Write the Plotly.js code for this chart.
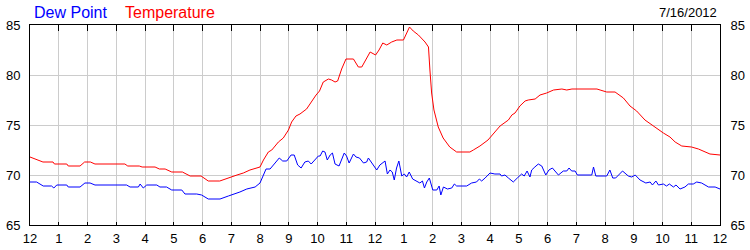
<!DOCTYPE html>
<html>
<head>
<meta charset="utf-8">
<script src="https://cdn.plot.ly/plotly-3.0.1.min.js"></script>
<style>html,body{margin:0;padding:0;background:#fff;}#chart{width:750px;height:250px;}</style>
</head>
<body>
<div id="chart"></div>
<script>
// Hours of the day (0 = midnight, 24 = next midnight)
const hourTicks = [0,1,2,3,4,5,6,7,8,9,10,11,12,13,14,15,16,17,18,19,20,21,22,23,24];
const hourLabels = ["12","1","2","3","4","5","6","7","8","9","10","11","12","1","2","3","4","5","6","7","8","9","10","11","12"];
const dateLabel = "7/16/2012";
const seriesNames = ["Dew Point", "Temperature"];

const tempHours = [0,0.45,0.8,0.85,1.28,1.33,1.74,1.9,2.1,2.26,3.3,3.4,3.8,3.9,4.35,4.5,4.7,4.93,5.3,5.57,5.95,6.05,6.2,6.6,6.96,7.2,7.42,7.65,8.0,8.12,8.29,8.41,8.64,8.81,8.99,9.1,9.25,9.39,9.62,9.78,9.95,10.07,10.2,10.38,10.49,10.61,10.7,10.84,10.99,11.25,11.42,11.54,11.69,11.83,12.02,12.14,12.27,12.41,12.58,12.76,12.99,13.08,13.2,13.33,13.51,13.74,13.86,13.91,13.97,14.05,14.2,14.37,14.6,14.84,15.3,15.42,15.65,15.93,16.35,16.64,16.76,16.87,17.04,17.22,17.33,17.57,17.74,17.97,18.21,18.5,18.67,18.85,19.72,19.83,20.06,20.35,20.64,20.87,21.1,21.39,21.68,22.03,22.26,22.44,22.67,23.01,23.25,23.42,23.65,24];
const tempValues = [71.8,71.3,71.3,71.1,71.1,70.9,70.9,71.3,71.3,71.1,71.1,70.9,70.9,70.8,70.8,70.6,70.6,70.3,70.3,69.9,69.9,69.7,69.4,69.4,69.8,70.0,70.2,70.5,70.8,71.5,72.3,72.5,73.3,73.7,74.5,75.3,75.9,76.1,76.6,77.3,78.0,78.4,79.3,79.6,79.5,79.3,79.4,80.6,81.6,81.6,80.8,80.8,81.6,82.3,82.0,82.5,83.2,83.0,83.3,83.5,83.5,84.0,84.8,84.4,84.0,83.3,82.8,80.5,78.2,76.5,74.8,73.7,72.8,72.3,72.3,72.5,72.9,73.5,74.9,75.5,76.0,76.2,76.9,77.4,77.5,77.6,78.0,78.2,78.5,78.6,78.5,78.6,78.6,78.5,78.3,78.3,77.7,76.9,76.4,75.5,74.9,74.2,73.8,73.3,72.9,72.8,72.6,72.4,72.1,72.0];

const dewHours = [0,0.23,0.46,0.75,0.83,0.93,1.28,1.33,1.74,1.91,2.09,2.26,3.36,3.48,3.77,3.83,3.94,4.06,4.41,4.52,4.75,4.93,5.28,5.39,5.8,5.97,6.2,6.61,6.9,7.13,7.3,7.54,7.83,8.0,8.12,8.21,8.35,8.52,8.67,8.79,8.93,9.08,9.19,9.31,9.43,9.56,9.68,9.78,9.91,10.03,10.09,10.18,10.26,10.34,10.44,10.52,10.61,10.75,10.93,11.01,11.1,11.25,11.34,11.46,11.6,11.71,11.77,11.88,12.06,12.17,12.35,12.43,12.52,12.6,12.67,12.75,12.83,12.93,13.02,13.1,13.19,13.31,13.45,13.56,13.65,13.72,13.8,13.89,14.01,14.15,14.23,14.29,14.38,14.52,14.67,14.76,14.84,15.19,15.36,15.53,15.63,15.71,15.83,16.0,16.17,16.35,16.4,16.52,16.64,16.81,16.95,17.1,17.19,17.29,17.39,17.45,17.56,17.68,17.8,17.94,18.05,18.17,18.26,18.38,18.55,18.67,18.75,18.84,18.96,19.04,19.54,19.6,19.68,19.94,20.06,20.17,20.27,20.37,20.61,20.81,20.93,21.05,21.22,21.42,21.57,21.65,21.77,21.86,22.03,22.14,22.24,22.38,22.47,22.61,22.78,22.9,23.07,23.19,23.36,23.6,23.83,24];
const dewValues = [69.3,69.3,68.9,68.9,68.7,69.0,69.0,68.8,68.8,69.2,69.2,69.0,69.0,68.8,68.8,69.1,68.7,69.0,69.0,68.8,68.8,68.5,68.5,68.1,68.1,68.0,67.6,67.6,67.9,68.1,68.3,68.6,68.8,69.2,70.0,70.6,70.6,71.2,71.7,71.4,71.4,72.0,72.0,71.0,70.7,71.3,71.4,71.1,71.5,71.9,71.9,72.4,72.3,71.5,72.0,72.2,71.1,70.9,72.2,71.9,71.2,72.1,71.8,71.7,71.2,71.3,71.7,71.2,70.5,71.0,71.4,70.1,70.5,70.3,69.5,70.7,71.4,69.9,70.1,69.8,70.3,69.6,69.4,69.2,69.4,68.7,69.3,69.7,68.5,68.5,68.9,68.0,68.8,68.6,68.7,69.1,68.9,68.9,69.2,69.3,69.6,69.4,69.7,70.2,70.1,70.1,69.9,70.0,69.7,69.3,69.7,70.1,69.9,70.4,69.8,70.5,70.8,71.1,70.9,70.0,70.5,70.7,70.4,70.0,70.4,70.4,70.7,70.4,70.4,70.0,70.0,70.8,69.9,69.9,69.9,70.5,69.7,69.7,70.4,69.9,69.8,70.0,69.5,69.2,69.3,69.0,69.4,69.0,69.1,68.9,69.1,68.8,69.0,68.6,68.8,69.1,69.1,69.3,69.2,68.8,68.8,68.6];

const yRange = [65, 85];
const xRange = [0, 24];
const FONT = '"Liberation Sans", Arial, sans-serif';

const traces = [
  {x: dewHours, y: dewValues, name: seriesNames[0], type: 'scatter', mode: 'lines',
   line: {color: '#0000ff', width: 1}, xaxis: 'x', yaxis: 'y', hoverinfo: 'skip'},
  {x: tempHours, y: tempValues, name: seriesNames[1], type: 'scatter', mode: 'lines',
   line: {color: '#ff0000', width: 1}, xaxis: 'x2', yaxis: 'y2', hoverinfo: 'skip'}
];

const tickFont = {family: FONT, size: 13, color: '#000'};

const layout = {
  width: 750, height: 250,
  margin: {l: 30, r: 30, t: 25, b: 25, pad: 0},
  paper_bgcolor: '#fff', plot_bgcolor: '#fff',
  showlegend: false,
  font: {family: FONT, size: 13, color: '#000'},
  xaxis: {
    range: xRange, tickmode: 'array', tickvals: hourTicks, ticktext: hourLabels,
    ticks: 'inside', ticklen: 3, tickcolor: '#000', tickwidth: 1,
    showgrid: true, gridcolor: '#cccccc', gridwidth: 1,
    showline: true, linecolor: '#000', linewidth: 1, zeroline: false,
    tickfont: tickFont, ticklabelstandoff: 1
  },
  xaxis2: {
    overlaying: 'x', side: 'top', anchor: 'y2',
    range: xRange, tickmode: 'array', tickvals: hourTicks,
    ticks: 'inside', ticklen: 6, tickcolor: '#000', tickwidth: 1,
    showticklabels: false, showgrid: false,
    showline: true, linecolor: '#000', linewidth: 1, zeroline: false
  },
  yaxis: {
    range: yRange, dtick: 5, tick0: 65, ticks: '',
    showgrid: true, gridcolor: '#cccccc', gridwidth: 1,
    showline: true, linecolor: '#000', linewidth: 1, zeroline: false,
    tickfont: tickFont, ticklabelstandoff: 6
  },
  yaxis2: {
    overlaying: 'y', side: 'right', anchor: 'x2',
    range: yRange, dtick: 5, tick0: 65, ticks: '',
    showgrid: false, showline: true, linecolor: '#000', linewidth: 1, zeroline: false,
    tickfont: tickFont, ticklabelstandoff: 7
  },
  annotations: [
    {text: seriesNames[0], xref: 'paper', yref: 'paper', x: 0.003, y: 1.065,
     xanchor: 'left', yanchor: 'middle', showarrow: false,
     font: {family: FONT, size: 16, color: '#0000ff'}},
    {text: seriesNames[1], xref: 'paper', yref: 'paper', x: 0.135, y: 1.065,
     xanchor: 'left', yanchor: 'middle', showarrow: false,
     font: {family: FONT, size: 16, color: '#ff0000'}},
    {text: dateLabel, xref: 'paper', yref: 'paper', x: 0.9985, y: 1.065,
     xanchor: 'right', yanchor: 'middle', showarrow: false,
     font: {family: FONT, size: 13, color: '#000'}}
  ]
};

Plotly.newPlot('chart', traces, layout, {staticPlot: true, displayModeBar: false});
</script>
</body>
</html>
